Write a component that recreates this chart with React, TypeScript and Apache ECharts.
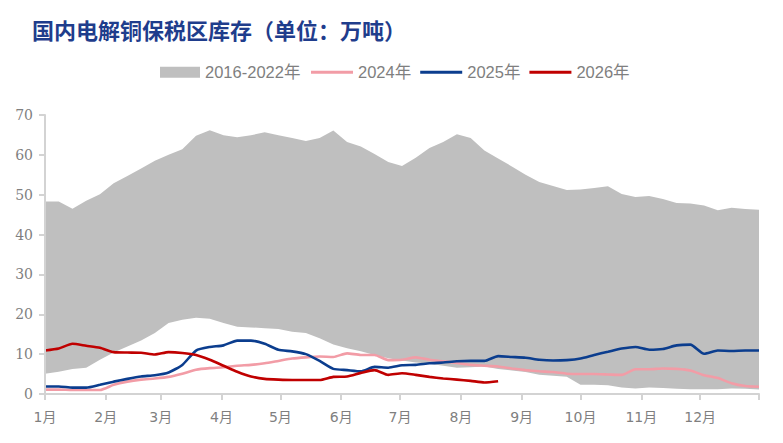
import React, { useEffect, useRef } from "react";
import * as echarts from "echarts";

const weekDays = [
  0, 7, 14, 21, 28, 35, 42, 49, 56, 63, 70, 77, 84, 91, 98, 105, 112, 119, 126, 133,
  140, 147, 154, 161, 168, 175, 182, 189, 196, 203, 210, 217, 224, 231, 238, 245, 252,
  259, 266, 273, 280, 287, 294, 301, 308, 315, 322, 329, 336, 343, 350, 357, 364,
];

const monthTicks = [0, 31, 59, 90, 120, 151, 181, 212, 243, 273, 304, 334, 364];
const monthLabels = ["1月", "2月", "3月", "4月", "5月", "6月", "7月", "8月", "9月", "10月", "11月", "12月"];

const rangeHigh = [
  48.3, 48.3, 46.5, 48.5, 50.1, 52.9, 54.7, 56.6, 58.5, 60.0, 61.4, 64.8, 66.2, 64.9,
  64.4, 64.9, 65.7, 64.9, 64.2, 63.5, 64.2, 66.1, 63.2, 62.1, 60.2, 58.2, 57.2, 59.3,
  61.7, 63.2, 65.2, 64.2, 61.1, 59.1, 57.1, 55.0, 53.2, 52.2, 51.2, 51.3, 51.7, 52.1,
  50.2, 49.4, 49.7, 48.9, 47.9, 47.8, 47.3, 46.1, 46.7, 46.4, 46.2,
];

const rangeLow = [
  5.1, 5.6, 6.3, 6.6, 8.6, 10.4, 11.9, 13.4, 15.3, 17.8, 18.6, 19.1, 18.9, 17.8,
  16.9, 16.7, 16.5, 16.3, 15.6, 15.3, 14.0, 12.4, 11.5, 10.7, 9.8, 9.0, 8.4, 7.9,
  7.6, 7.1, 6.6, 6.7, 6.9, 6.3, 5.9, 5.5, 4.8, 4.6, 4.3, 2.3, 2.3, 2.2,
  1.6, 1.4, 1.6, 1.5, 1.3, 1.2, 1.2, 1.2, 1.4, 1.3, 1.1,
];

const y2024 = [
  1.1, 1.1, 1.0, 1.0, 1.0, 2.3, 3.1, 3.6, 3.9, 4.3, 5.1, 6.1, 6.5, 6.7,
  7.1, 7.3, 7.7, 8.3, 8.9, 9.2, 9.4, 9.3, 10.2, 9.8, 9.8, 8.5, 8.6, 9.2,
  8.6, 8.2, 7.8, 7.3, 7.1, 6.9, 6.4, 6.0, 5.7, 5.5, 5.1, 5.0, 5.0, 4.9,
  4.8, 6.2, 6.2, 6.4, 6.3, 5.9, 4.7, 4.0, 2.7, 2.0, 1.8,
];

const y2025 = [
  1.9, 1.9, 1.6, 1.6, 2.3, 3.1, 3.8, 4.4, 4.7, 5.4, 7.3, 10.9, 11.8, 12.2,
  13.4, 13.4, 12.6, 11.1, 10.7, 10.0, 8.3, 6.3, 6.0, 5.7, 6.8, 6.6, 7.2, 7.3,
  7.7, 7.9, 8.2, 8.3, 8.3, 9.5, 9.3, 9.1, 8.6, 8.4, 8.5, 8.9, 9.8, 10.6,
  11.4, 11.8, 11.1, 11.3, 12.2, 12.4, 10.1, 10.9, 10.8, 10.9, 10.9,
];

const y2026 = [
  10.9, 11.4, 12.6, 12.1, 11.6, 10.5, 10.4, 10.35, 9.9, 10.5, 10.3, 9.8, 8.6, 7.1,
  5.6, 4.4, 3.8, 3.6, 3.5, 3.5, 3.5, 4.3, 4.4, 5.3, 6.0, 4.8, 5.2, 4.8,
  4.3, 3.9, 3.6, 3.3, 2.9, 3.2,
];

const pair = (vals: number[]) => vals.map((v, i) => [weekDays[i], v]);

const legendText = {
  color: "#7F7F7F",
  fontSize: 16.5,
  fontFamily: "'Liberation Sans', 'Noto Sans CJK SC', sans-serif",
};

export default function App() {
  const ref = useRef<HTMLDivElement>(null);
  useEffect(() => {
    if (!ref.current) return;
    const chart = echarts.init(ref.current, undefined, { renderer: "svg" });
    const axisColor = "#D3D3D3";
    chart.setOption({
      animation: false,
      backgroundColor: "#FFFFFF",
      title: {
        text: "国内电解铜保税区库存（单位：万吨）",
        left: 32,
        top: 18,
        padding: 0,
        textStyle: {
          color: "#1F3D8C",
          fontSize: 22,
          fontWeight: "bold",
          fontFamily: "'Noto Sans CJK SC', sans-serif",
        },
      },
      legend: [
        {
          data: ["2016-2022年"],
          left: 160,
          top: 64,
          padding: 0,
          icon: "rect",
          itemWidth: 40,
          itemHeight: 11,
          itemStyle: { borderWidth: 0 },
          textStyle: legendText,
          selectedMode: false,
        },
        {
          data: ["2024年", "2025年", "2026年"],
          left: 311,
          top: 64,
          padding: 0,
          icon: "rect",
          itemWidth: 42,
          itemHeight: 3,
          itemGap: 9,
          itemStyle: { borderWidth: 0 },
          textStyle: legendText,
          selectedMode: false,
        },
      ],
      grid: { left: 45, right: 24, top: 115, bottom: 49, containLabel: false },
      xAxis: {
        type: "value",
        min: 0,
        max: 364,
        z: 5,
        splitLine: { show: false },
        axisLine: { show: true, lineStyle: { color: axisColor, width: 2 } },
        axisTick: {
          show: true,
          length: 6,
          customValues: monthTicks,
          lineStyle: { color: axisColor, width: 2 },
        },
        axisLabel: {
          customValues: monthTicks.slice(0, 12),
          formatter: (v: number) => monthLabels[monthTicks.indexOf(v)] ?? "",
          color: "#7F7F7F",
          fontSize: 14,
          margin: 16,
          fontFamily: "'DejaVu Sans', 'Noto Sans CJK SC', sans-serif",
        },
      },
      yAxis: {
        type: "value",
        min: 0,
        max: 70,
        interval: 10,
        z: 5,
        splitLine: { show: false },
        axisLine: { show: true, lineStyle: { color: axisColor, width: 2 } },
        axisTick: { show: true, length: 6, lineStyle: { color: axisColor, width: 2 } },
        axisLabel: {
          color: "#7F7F7F",
          fontSize: 14,
          margin: 12,
          fontFamily: "'DejaVu Serif', serif",
        },
      },
      series: [
        {
          name: "2016-2022年",
          type: "line",
          data: pair(rangeHigh),
          color: "#BFBFBF",
          symbol: "none",
          silent: true,
          lineStyle: { width: 0 },
          areaStyle: { color: "#BFBFBF", opacity: 1 },
        },
        {
          name: "low",
          type: "line",
          data: pair(rangeLow),
          color: "#FFFFFF",
          symbol: "none",
          silent: true,
          lineStyle: { width: 0 },
          areaStyle: { color: "#FFFFFF", opacity: 1 },
        },
        {
          name: "2024年",
          type: "line",
          data: pair(y2024),
          color: "#F29CA6",
          symbol: "none",
          smooth: 0.2,
          lineStyle: { width: 2.6, color: "#F29CA6" },
        },
        {
          name: "2025年",
          type: "line",
          data: pair(y2025),
          color: "#0B3D8E",
          symbol: "none",
          smooth: 0.2,
          lineStyle: { width: 2.6, color: "#0B3D8E" },
        },
        {
          name: "2026年",
          type: "line",
          data: pair(y2026),
          color: "#C00000",
          symbol: "none",
          smooth: 0.2,
          lineStyle: { width: 2.6, color: "#C00000" },
        },
      ],
    });
    return () => chart.dispose();
  }, []);
  return (
    <div
      ref={ref}
      style={{ position: "fixed", left: 0, top: 0, width: 783, height: 443 }}
    />
  );
}
